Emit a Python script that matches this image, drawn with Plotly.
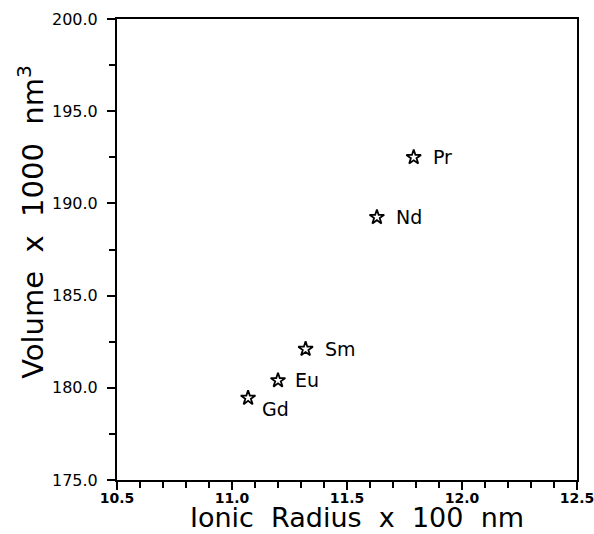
import plotly.graph_objects as go

elements = ["Pr", "Nd", "Sm", "Eu", "Gd"]
ionic_radius = [11.79, 11.63, 11.32, 11.20, 11.07]
volume = [192.5, 189.25, 182.1, 180.4, 179.45]
label_dx = [17, 17, 17, 15, 12]
label_dy = [0, 0, 0, 0, -11]

x_ticks = [10.5, 11.0, 11.5, 12.0, 12.5]
y_ticks = [175.0, 180.0, 185.0, 190.0, 195.0, 200.0]

nb = "\u00a0"
FONT = "DejaVu Sans"
x_title = f"Ionic{nb}{nb}Radius{nb}{nb}x{nb}{nb}100{nb}{nb}nm"
y_title = f"Volume{nb}{nb}x{nb}{nb}1000{nb}{nb}nm<sup>3</sup>"

fig = go.Figure()
fig.add_trace(go.Scatter(
    x=ionic_radius, y=volume, mode="markers",
    marker=dict(symbol="star-open", size=11, color="black", line=dict(color="black", width=1.8)),
    showlegend=False, hoverinfo="skip"))

for el, xv, yv, dx, dy in zip(elements, ionic_radius, volume, label_dx, label_dy):
    fig.add_annotation(x=xv, y=yv, text=el, showarrow=False, xanchor="left", yanchor="middle",
                       xshift=dx, yshift=dy,
                       font=dict(family=FONT, size=19, color="black"))

# axis titles
fig.add_annotation(xref="paper", yref="paper", x=0.522, y=-0.1171, text=x_title,
                   showarrow=False, xanchor="center", yanchor="bottom", borderpad=0,
                   font=dict(family=FONT, size=27, color="black"))
fig.add_annotation(xref="paper", yref="paper", x=-0.187, y=0.56, text=y_title, textangle=-90,
                   showarrow=False, xanchor="center", yanchor="middle",
                   font=dict(family=FONT, size=29, color="black"))

fig.update_layout(
    width=594, height=534,
    margin=dict(l=117, r=17, t=19, b=54),
    paper_bgcolor="white", plot_bgcolor="white",
    font=dict(family=FONT, color="black"),
)
fig.update_xaxes(
    range=[10.5, 12.5], tickvals=x_ticks, ticktext=[f"{v:.1f}" for v in x_ticks],
    ticks="outside", ticklen=8, tickwidth=1.5, tickcolor="black",
    minor=dict(dtick=0.1, ticks="outside", ticklen=6, tickwidth=1.5, tickcolor="black", showgrid=False),
    showline=True, linecolor="black", linewidth=2, mirror=True, showgrid=False, zeroline=False,
    automargin=False, ticklabeloverflow="allow", ticklabelstandoff=-4,
    tickfont=dict(family=FONT, size=14, color="black", weight="bold"),
)
fig.update_yaxes(
    range=[175, 200], tickvals=y_ticks, ticktext=[f"{v:.1f}" for v in y_ticks],
    ticks="outside", ticklen=8, tickwidth=1.5, tickcolor="black",
    minor=dict(dtick=2.5, ticks="outside", ticklen=6, tickwidth=1.5, tickcolor="black", showgrid=False),
    showline=True, linecolor="black", linewidth=2, mirror=True, showgrid=False, zeroline=False,
    automargin=False, ticklabeloverflow="allow",
    tickfont=dict(family=FONT, size=16, color="black"),
    ticklabelstandoff=6,
)

fig.write_html("out.html")
